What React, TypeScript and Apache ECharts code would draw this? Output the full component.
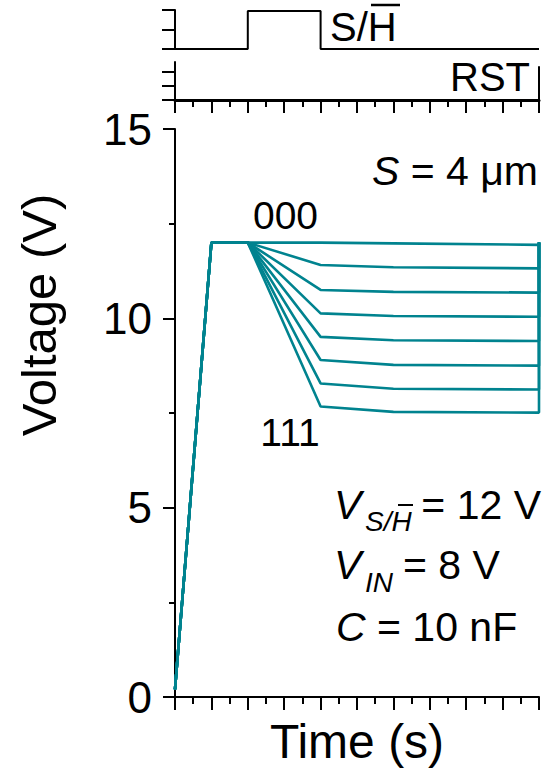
import React, { useEffect, useRef } from 'react';
import * as echarts from 'echarts';

// Shared sample instants (s) of the output traces; the last instant repeats for the reset jump.
const sampleTimes = [0, 1, 2, 4, 6, 10, 10];

// Output voltage (V) per input code, one value per sample instant.
const trace000 = [0.2, 12, 12, 12.0, 11.98, 11.94, 12];
const trace001 = [0.2, 12, 12, 11.41, 11.35, 11.32, 12];
const trace010 = [0.2, 12, 12, 10.75, 10.7, 10.68, 12];
const trace011 = [0.2, 12, 12, 10.13, 10.06, 10.04, 12];
const trace100 = [0.2, 12, 12, 9.51, 9.42, 9.4, 12];
const trace101 = [0.2, 12, 12, 8.9, 8.77, 8.75, 12];
const trace110 = [0.2, 12, 12, 8.28, 8.14, 8.12, 12];
const trace111 = [0.2, 12, 12, 7.67, 7.53, 7.51, 12];
const traces = [trace000, trace001, trace010, trace011, trace100, trace101, trace110, trace111];
const codeLabels = ['000', '001', '010', '011', '100', '101', '110', '111'];

// Control signals (arbitrary logic levels).
const shTimes = [0, 2, 2, 4, 4, 10];
const shLevels = [0, 0, 1.95, 1.95, 0, 0];
const rstTimes = [0, 10, 10];
const rstLevels = [0, 0, 2.4];

// Axis ranges and ticks.
const timeRange = [0, 10];
const timeStep = 1;
const voltRange = [0, 15];
const voltStep = 5;

const FONT = '"Liberation Sans", Arial, sans-serif';
const TEAL = '#00838F';
const BLACK = '#000';

const zip = (xs: number[], ys: number[]) => xs.map((x, i) => [x, ys[i]]);

function timeAxis(gridIndex: number, visible: boolean, lineWidth: number, extra: any = {}) {
  return {
    type: 'value',
    gridIndex,
    min: timeRange[0],
    max: timeRange[1],
    interval: timeStep,
    show: visible,
    axisLine: { show: true, onZero: false, lineStyle: { color: BLACK, width: lineWidth } },
    axisTick: { show: true, inside: false, length: 13, lineStyle: { color: BLACK, width: 2 } },
    minorTick: { show: true, splitNumber: 2, length: 7, lineStyle: { color: BLACK, width: 2 } },
    axisLabel: { show: false },
    splitLine: { show: false },
    minorSplitLine: { show: false },
    ...extra,
  };
}

function signalAxis(gridIndex: number, max: number, tickValues: number[]) {
  return {
    type: 'value',
    gridIndex,
    min: 0,
    max,
    interval: 1,
    axisLine: { show: true, onZero: false, lineStyle: { color: BLACK, width: 2 } },
    axisTick: { show: true, inside: false, length: 13, customValues: tickValues, lineStyle: { color: BLACK, width: 2 } },
    axisLabel: { show: false },
    splitLine: { show: false },
  };
}

function textEl(text: string, x: number, y: number, size: number, opts: any = {}) {
  const { align = 'left', italic = false, rotation = 0 } = opts;
  return {
    type: 'text',
    x,
    y,
    rotation,
    z: 100,
    style: {
      text,
      fontSize: size,
      fontFamily: FONT,
      fontStyle: italic ? 'italic' : 'normal',
      fill: BLACK,
      align,
      verticalAlign: 'middle',
    },
  };
}

function barEl(x1: number, x2: number, y: number, w: number) {
  return {
    type: 'line',
    z: 100,
    shape: { x1, y1: y, x2, y2: y },
    style: { stroke: BLACK, lineWidth: w },
  };
}

export default function App() {
  const ref = useRef<HTMLDivElement>(null);

  useEffect(() => {
    document.body.style.margin = '0';
    if (!ref.current) return;
    const chart = echarts.init(ref.current, null, { renderer: 'svg' });

    const option: any = {
      animation: false,
      backgroundColor: '#fff',
      grid: [
        { left: 175, right: 4, top: 10, height: 39 },
        { left: 175, right: 4, top: 62, height: 38 },
        { left: 175, right: 4, top: 129, height: 568 },
      ],
      xAxis: [
        timeAxis(0, false, 2),
        timeAxis(1, true, 3),
        timeAxis(2, true, 2, {
          name: 'Time (s)',
          nameLocation: 'middle',
          nameGap: 20,
          nameTextStyle: { fontSize: 48, color: BLACK, fontFamily: FONT },
        }),
      ],
      yAxis: [
        signalAxis(0, 2, [0, 1, 2]),
        signalAxis(1, 2.7, [0, 1, 2]),
        {
          type: 'value',
          gridIndex: 2,
          min: voltRange[0],
          max: voltRange[1],
          interval: voltStep,
          axisLine: { show: true, onZero: false, lineStyle: { color: BLACK, width: 2 } },
          axisTick: { show: true, inside: false, length: 12, lineStyle: { color: BLACK, width: 2 } },
          minorTick: { show: true, splitNumber: 2, length: 6, lineStyle: { color: BLACK, width: 2 } },
          axisLabel: { show: true, margin: 23, fontSize: 44, color: BLACK, fontFamily: FONT },
          splitLine: { show: false },
          minorSplitLine: { show: false },
        },
      ],
      series: [
        {
          type: 'line',
          xAxisIndex: 0,
          yAxisIndex: 0,
          data: zip(shTimes, shLevels),
          symbol: 'none',
          lineStyle: { color: BLACK, width: 2 },
        },
        {
          type: 'line',
          xAxisIndex: 1,
          yAxisIndex: 1,
          data: zip(rstTimes, rstLevels),
          symbol: 'none',
          lineStyle: { color: BLACK, width: 2 },
        },
        ...traces.map((vals, i) => ({
          name: codeLabels[i],
          type: 'line',
          xAxisIndex: 2,
          yAxisIndex: 2,
          data: zip(sampleTimes, vals),
          symbol: 'none',
          lineStyle: { color: TEAL, width: 2.6 },
        })),
      ],
      graphic: [
        // Control-signal names
        textEl('S/H', 330, 27.4, 40),
        barEl(371, 400, 5, 2.5),
        textEl('RST', 530, 77.4, 40, { align: 'right' }),
        // Axis title
        textEl('Voltage (V)', 39, 315, 49, { align: 'center', rotation: Math.PI / 2 }),
        // Trace labels
        textEl(codeLabels[0], 285.5, 215, 39, { align: 'center' }),
        textEl(codeLabels[7], 290, 432.7, 39, { align: 'center' }),
        // Geometry / conditions
        {
          type: 'text',
          x: 538,
          y: 171.3,
          z: 100,
          style: {
            text: '{i|S} = 4 μm',
            fontSize: 41,
            fontFamily: FONT,
            fill: BLACK,
            align: 'right',
            verticalAlign: 'middle',
            rich: { i: { fontStyle: 'italic', fontSize: 41, fontFamily: FONT } },
          },
        },
        textEl('V', 334, 505.3, 41, { italic: true }),
        textEl('S/H', 365, 521.7, 28, { italic: true }),
        barEl(398, 413, 505, 2),
        textEl('= 12 V', 541, 505.3, 41, { align: 'right' }),
        textEl('V', 334, 565.3, 41, { italic: true }),
        textEl('IN', 365, 582, 28, { italic: true }),
        textEl('= 8 V', 403, 565.3, 41),
        textEl('C', 336, 627, 41, { italic: true }),
        textEl('= 10 nF', 377, 627, 41),
      ],
    };

    chart.setOption(option);
    return () => chart.dispose();
  }, []);

  return (
    <div
      ref={ref}
      style={{ position: 'fixed', left: 0, top: 0, width: 543, height: 771, background: '#fff' }}
    />
  );
}
